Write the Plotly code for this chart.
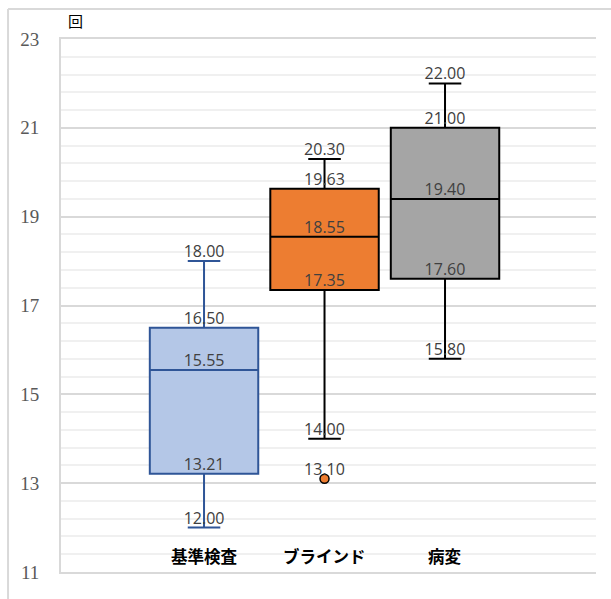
import plotly.graph_objects as go

# Summary statistics per group
categories = ["基準検査", "ブラインド", "病変"]
lower_whisker = [12.00, 14.00, 15.80]
q1_values = [13.21, 17.35, 17.60]
median_values = [15.55, 18.55, 19.40]
q3_values = [16.50, 19.63, 21.00]
upper_whisker = [18.00, 20.30, 22.00]
outlier_cat = ["ブラインド"]
outlier_values = [13.10]

fill_colors = ["#B4C7E7", "#ED7D31", "#A5A5A5"]
line_colors = ["#2F5597", "#000000", "#000000"]

fig = go.Figure()

for i, cat in enumerate(categories):
    fig.add_trace(go.Box(
        x=[cat],
        q1=[q1_values[i]],
        median=[median_values[i]],
        q3=[q3_values[i]],
        lowerfence=[lower_whisker[i]],
        upperfence=[upper_whisker[i]],
        fillcolor=fill_colors[i],
        line=dict(color=line_colors[i], width=2),
        width=0.9,
        whiskerwidth=0.3,
        boxpoints=False,
        hoverinfo="skip",
        showlegend=False,
    ))

# Outlier point
fig.add_trace(go.Scatter(
    x=outlier_cat, y=outlier_values, mode="markers",
    marker=dict(size=9, color="#ED7D31", line=dict(color="#000000", width=1.5)),
    showlegend=False, hoverinfo="skip",
))

label_font = dict(family="Open Sans", size=16, color="#404040")

# Value labels above each statistic
for i, cat in enumerate(categories):
    vals = [lower_whisker[i], q1_values[i], median_values[i], q3_values[i], upper_whisker[i]]
    fig.add_trace(go.Scatter(
        x=[cat] * len(vals), y=vals, mode="text",
        text=[f"{v:.2f}" for v in vals],
        textposition="top center",
        textfont=label_font,
        showlegend=False, hoverinfo="skip",
    ))

fig.add_trace(go.Scatter(
    x=outlier_cat, y=outlier_values, mode="text",
    text=[f"{v:.2f}" for v in outlier_values],
    textposition="top center",
    textfont=label_font,
    showlegend=False, hoverinfo="skip",
))

# Category labels drawn inside the plot area
for cat in categories:
    fig.add_annotation(
        x=cat, y=11.36, xref="x", yref="y", text=f"<b>{cat}</b>",
        showarrow=False,
        font=dict(family="Noto Sans CJK JP", size=16.5, color="#000000"),
    )

# Unit label
fig.add_annotation(
    x=0.0, y=1.0, xref="paper", yref="paper", yshift=19, xshift=14,
    text="回", showarrow=False, xanchor="center", yanchor="middle",
    font=dict(family="Noto Sans CJK JP", size=15, color="#000000"),
)

# Outer frame
fig.add_shape(type="line", xref="paper", yref="paper",
              x0=-0.099, x1=1.2, y0=1.0563, y1=1.0563,
              line=dict(color="#D9D9D9", width=2))
fig.add_shape(type="line", xref="paper", yref="paper",
              x0=-0.099, x1=-0.099, y0=1.0563, y1=-0.2,
              line=dict(color="#D9D9D9", width=2))

fig.update_layout(
    width=611, height=599,
    margin=dict(l=61, r=15, t=39, b=27),
    paper_bgcolor="white", plot_bgcolor="white",
    xaxis=dict(
        type="category", range=[-1.187, 3.253],
        showticklabels=False, showgrid=False, zeroline=False,
        showline=True, mirror=True, linecolor="#D9D9D9", linewidth=2,
        ticks="",
    ),
    yaxis=dict(
        range=[11, 23], tick0=11, dtick=2,
        showgrid=True, gridcolor="#D9D9D9", gridwidth=2,
        minor=dict(dtick=0.4, tick0=11, showgrid=True,
                   gridcolor="#F0F0F0", gridwidth=2),
        showline=True, linecolor="#D9D9D9", linewidth=2,
        zeroline=False, ticks="",
        ticklabelstandoff=16,
        tickfont=dict(family="Liberation Serif, Times New Roman, serif",
                      size=19, color="#595959"),
    ),
)

fig.write_html("out.html")
